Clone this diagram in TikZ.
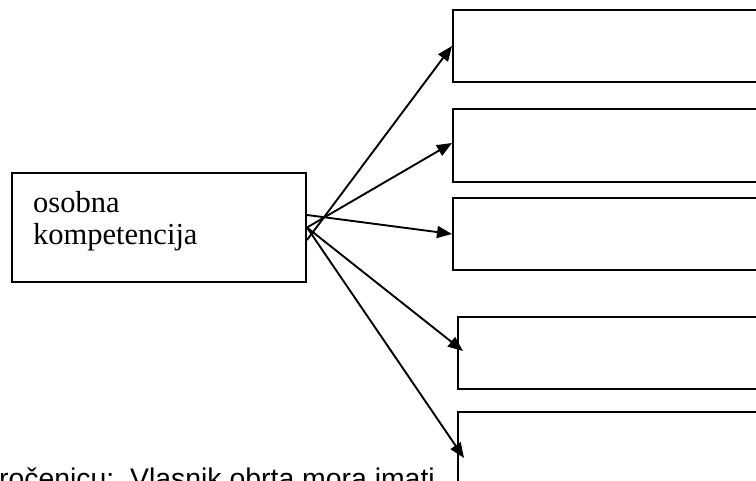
\documentclass[tikz,border=0pt]{standalone}
\usepackage{fontspec}
\setmainfont{Liberation Serif}
\newfontfamily\arialfont{Liberation Sans}
\usetikzlibrary{arrows.meta}

\begin{document}
\begin{tikzpicture}[x=1pt,y=-1pt]
\tikzset{okvir/.style={rectangle, draw=black, line width=2pt, inner sep=0pt},
	strelica/.style={line width=1.9pt, -{Triangle[length=15pt,width=12pt]}}}
\useasboundingbox (0,0) rectangle (756,481);
\clip (0,0) rectangle (756,481);
\node[okvir, minimum width=294pt, minimum height=109pt] at (159,227.5) (komp) {};
\node[anchor=north west, align=left, inner sep=0pt, font=\fontsize{30.5}{32}\selectfont] at (33,191.5) (kompnaslov) {osobna\\kompetencija};
\node[okvir, minimum width=330pt, minimum height=72pt, anchor=north west] at (452,9) (b1) {};
\node[okvir, minimum width=330pt, minimum height=73pt, anchor=north west] at (452,108) (b2) {};
\node[okvir, minimum width=330pt, minimum height=72pt, anchor=north west] at (452,197) (b3) {};
\node[okvir, minimum width=330pt, minimum height=72pt, anchor=north west] at (457,316) (b4) {};
\node[okvir, minimum width=330pt, minimum height=72pt, anchor=north west] at (457,411) (b5) {};
\node[anchor=base east, inner sep=0pt, font=\arialfont\fontsize{28.4}{34}\selectfont] at (435,488) (napomena) {ročenicu:\ \ Vlasnik obrta mora imati};
			% strelice
			\draw [strelica] ([yshift=-12.5pt]komp.east) -- (b1.west);
			\draw [strelica] (komp.east) -- ([yshift=2.5pt]b2.west);
			\draw [strelica] ([yshift=12.5pt]komp.east) -- (b3.west);
			\draw [strelica] (komp.east) -- ([xshift=6pt, yshift=2pt]b4.west);
			\draw [strelica] (komp.east) -- ([xshift=7pt, yshift=-10pt]b5.west);
		\end{tikzpicture}
\end{document}
